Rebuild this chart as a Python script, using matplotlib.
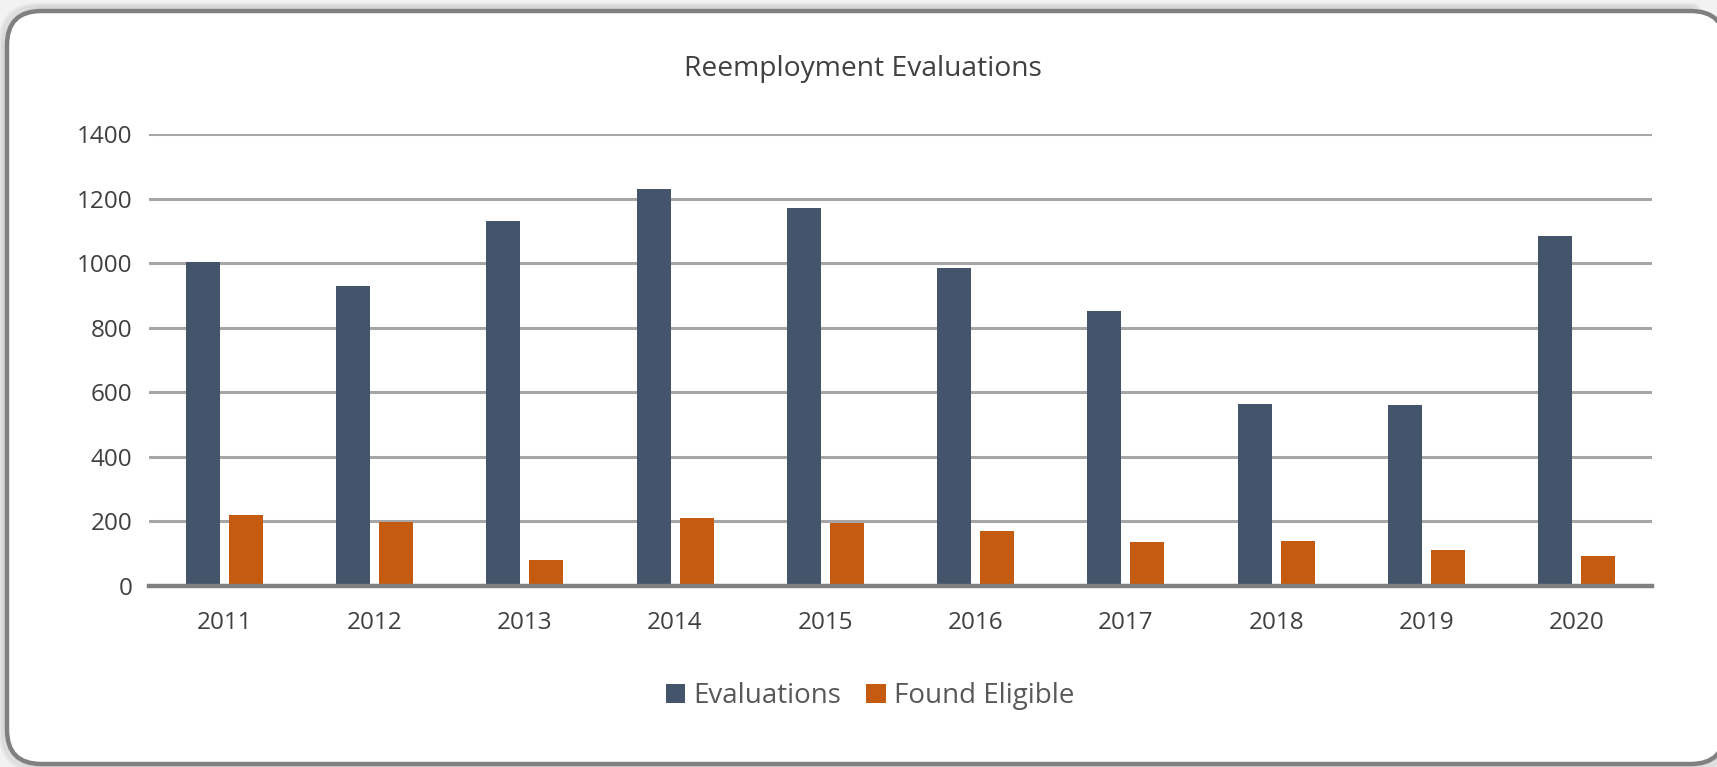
"""
plot.py
Reemployment Evaluations - grouped bar chart
"""
import matplotlib
matplotlib.use("Agg")
import matplotlib.pyplot as plt
from matplotlib.patches import FancyBboxPatch
import numpy as np

COLORS = {
    "eval":   "#44546A",
    "elig":   "#C55A11",
    "text":   "#404040",
    "legend": "#595959",
    "grid":   "#A6A6A6",
    "axis":   "#7F7F7F",
    "frame":  "#808080",
    "bg":     "#FFFFFF",
}

years = ["2011", "2012", "2013", "2014", "2015", "2016", "2017", "2018", "2019", "2020"]
evaluations = [1004, 930, 1131, 1230, 1171, 986, 853, 565, 562, 1085]
found_eligible = [219, 197, 82, 212, 195, 169, 135, 138, 113, 92]

plt.rcParams["font.family"] = ["Open Sans", "DejaVu Sans"]

W, H = 1717, 767
fig = plt.figure(figsize=(W / 100, H / 100), dpi=100)
fig.patch.set_facecolor("#F2F2F2")

# rounded frame with a soft shadow
fx0, fy0, fw, fh = 7, 3, 1725 - 7, 767 - 11 - 3
for k, a in enumerate([0.05, 0.05, 0.06]):
    off = (3 - k) * 2
    fig.patches.append(FancyBboxPatch(
        ((fx0 - off) / W, (fy0 - off) / H), (fw + 2 * off) / W, (fh + 2 * off) / H,
        boxstyle="round,pad=0,rounding_size=0.022", transform=fig.transFigure,
        facecolor="none", edgecolor="black", alpha=a, linewidth=3, zorder=0,
        mutation_aspect=W / H))
fig.patches.append(FancyBboxPatch(
    (fx0 / W, fy0 / H), fw / W, fh / H,
    boxstyle="round,pad=0,rounding_size=0.02", transform=fig.transFigure,
    facecolor=COLORS["bg"], edgecolor=COLORS["frame"], linewidth=3.2, zorder=1,
    mutation_aspect=W / H))

ax = fig.add_axes([149 / W, (H - 586) / H, (1652 - 149) / W, (586 - 134) / H])
ax.set_facecolor("none")
ax.set_zorder(2)

x = np.arange(len(years))
bw = 0.226
ax.bar(x - 0.143, evaluations, width=bw, color=COLORS["eval"], label="Evaluations", zorder=3)
ax.bar(x + 0.143, found_eligible, width=bw, color=COLORS["elig"], label="Found Eligible", zorder=3)

ax.set_xlim(-0.5, len(years) - 0.5)
ax.set_ylim(0, 1400)
ax.set_yticks(range(0, 1401, 200))
ax.set_xticks(x)
ax.set_xticklabels(years)
ax.tick_params(axis="both", length=0, labelsize=17.5, labelcolor=COLORS["text"])
ax.tick_params(axis="y", pad=12)
ax.tick_params(axis="x", pad=18)

ax.yaxis.grid(True, color=COLORS["grid"], linewidth=2.2, zorder=0)
ax.set_axisbelow(True)
for s in ["top", "right", "left"]:
    ax.spines[s].set_visible(False)
ax.spines["bottom"].set_color(COLORS["axis"])
ax.spines["bottom"].set_linewidth(3.2)
ax.spines["bottom"].set_zorder(4)

fig.text(863 / W, (H - 69) / H, "Reemployment Evaluations", ha="center", va="center",
         fontsize=20.3, color=COLORS["text"], zorder=5)

leg = fig.legend(loc="center", bbox_to_anchor=(870 / W, (H - 696) / H), ncol=2,
                 frameon=False, fontsize=20, handlelength=0.7, handleheight=0.7,
                 handletextpad=0.3, columnspacing=0.9)
for t in leg.get_texts():
    t.set_color(COLORS["legend"])

fig.savefig("out.png", dpi=100, facecolor=fig.get_facecolor())
